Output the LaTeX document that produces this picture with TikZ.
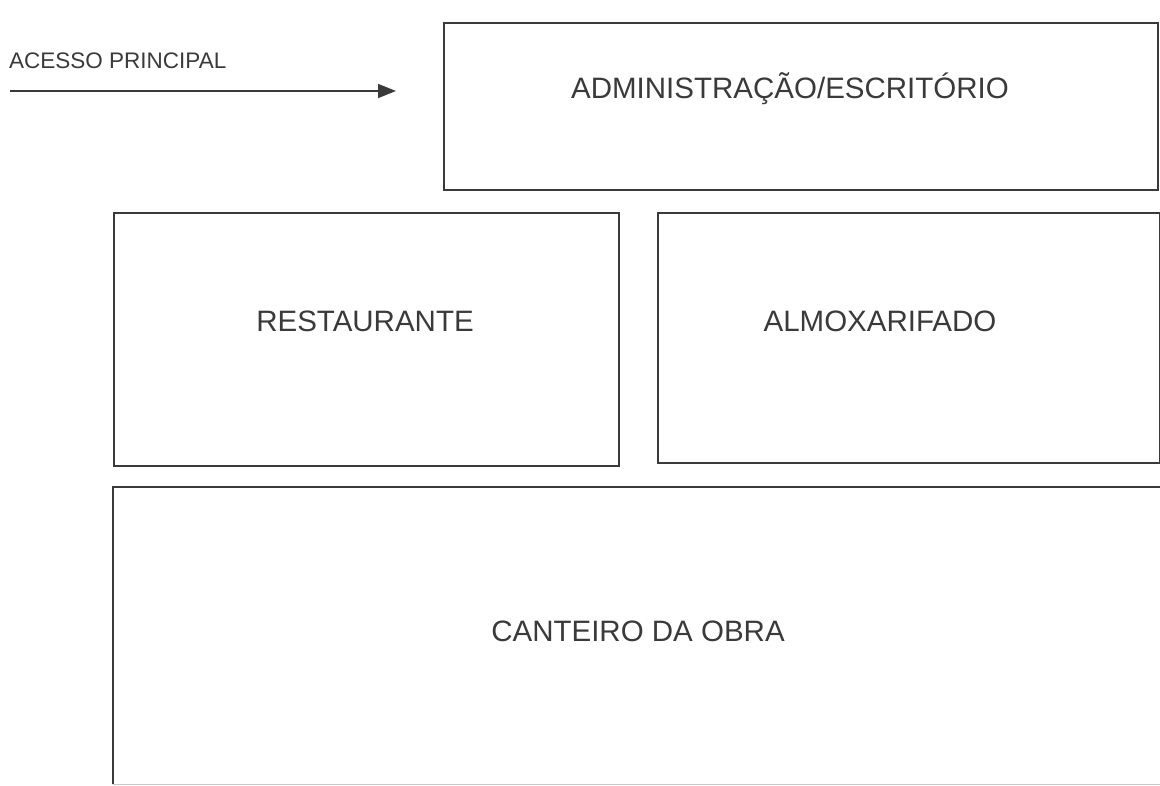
\documentclass[tikz,border=0pt]{standalone}
\usepackage{fontspec}
\setmainfont{Liberation Sans}
\usetikzlibrary{arrows.meta}
\definecolor{ink}{HTML}{3A3A3A}
\definecolor{faint}{HTML}{C8C8C8}
\begin{document}
\begin{tikzpicture}[x=1pt,y=-1pt,
  box/.style={draw=ink, line width=1.6pt, inner sep=0pt, anchor=north west},
  edge/.style={draw=ink, line width=1.6pt},
  lbl/.style={text=ink, font=\fontsize{29.5}{33}\selectfont, inner sep=0pt},
  small/.style={text=ink, font=\fontsize{22.5}{26}\selectfont, inner sep=0pt, anchor=west}]
\useasboundingbox (0,0) rectangle (1160,786);
\node[box, minimum width=714pt, minimum height=167pt] (adm) at (443,22) {};
\node[lbl] (admt) at (790,89) {ADMINISTRAÇÃO/ESCRITÓRIO};
\node[box, minimum width=505pt, minimum height=253pt] (rest) at (113,212) {};
\node[lbl] (restt) at (365,321) {RESTAURANTE};
\node[box, minimum width=502pt, minimum height=250pt] (almox) at (657,212) {};
\node[lbl] (almoxt) at (880,321) {ALMOXARIFADO};
\node[inner sep=0pt, anchor=north west, minimum width=1100pt, minimum height=297pt] (cant) at (113,487) {};
\draw[edge] (cant.south west) -- (cant.north west) -- (cant.north east);
\draw[faint, line width=1pt] (cant.south west) -- (cant.south east);
\node[lbl] (cantt) at (638,631) {CANTEIRO DA OBRA};
\node[small] (acc) at (9,61) {ACESSO PRINCIPAL};
\coordinate (a0) at (10,91);
\coordinate (a1) at (396,91);
\draw[ink, line width=1.6pt, -{Triangle[length=18pt,width=14pt]}] (a0) -- (a1);
\end{tikzpicture}
\end{document}
